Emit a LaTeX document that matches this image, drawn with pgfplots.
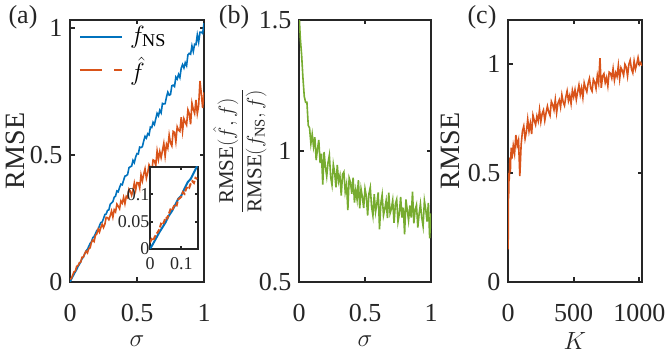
\documentclass[border=0pt]{standalone}
\usepackage{pgfplots}
\pgfplotsset{compat=1.18}
\usepackage{fontspec}
\setmainfont{Liberation Serif}
\definecolor{mblue}{rgb}{0,0.447,0.741}
\definecolor{morange}{rgb}{0.85,0.325,0.098}
\definecolor{mgreen}{rgb}{0.466,0.674,0.188}
\definecolor{axgray}{rgb}{0.15,0.15,0.15}
\pgfplotsset{
  panel/.style={
    scale only axis, width=134pt, height=262pt,
    anchor=south west,
    axis line style={line width=2.5pt, axgray},
    every tick/.style={line width=2.2pt, axgray},
    major tick length=4.5pt,
    tick align=inside,
    scaled ticks=false,
    tick label style={font=\fontsize{26}{26}\selectfont, text=axgray},
    /pgf/number format/assume math mode=true,
    /pgf/number format/1000 sep={},
    label style={font=\fontsize{28}{30}\selectfont, text=axgray},
    xticklabel style={yshift=-19pt},
    yticklabel style={xshift=-4pt},
    xlabel style={at={(rel axis cs:0.5,-0.225)}, anchor=center},
  },
}
\begin{document}
\begin{tikzpicture}
\path[use as bounding box] (0pt,0pt) rectangle (667pt,356pt);
% ---------------- (a)
\begin{axis}[panel, at={(70pt,74pt)},
  xmin=0, xmax=1, ymin=0, ymax=1.03,
  xtick={0,0.5,1}, ytick={0,0.5,1},
  xlabel={$\sigma$}, ylabel={RMSE},
  ylabel style={at={(rel axis cs:-0.41,0.5)}, anchor=center}]
\addplot[mblue, line width=1.6pt] coordinates {
(0,0) (0.01,0.0098) (0.02,0.0203) (0.03,0.0307) (0.04,0.0398) (0.05,0.0491) (0.06,0.0609) (0.07,0.0693) (0.08,0.0802) (0.09,0.0918) (0.10,0.0978) (0.11,0.1106) (0.12,0.1221) (0.13,0.1284) (0.14,0.1397) (0.15,0.1515) (0.16,0.1576) (0.17,0.1738) (0.18,0.1787) (0.19,0.19) (0.20,0.2025) (0.21,0.2058) (0.22,0.2217) (0.23,0.2335) (0.24,0.2358) (0.25,0.2488) (0.26,0.2652) (0.27,0.2673) (0.28,0.2814) (0.29,0.2835) (0.30,0.3053) (0.31,0.3108) (0.32,0.316) (0.33,0.3333) (0.34,0.3375) (0.35,0.3579) (0.36,0.3546) (0.37,0.3719) (0.38,0.3848) (0.39,0.3822) (0.40,0.40) (0.41,0.4162) (0.42,0.4179) (0.43,0.4225) (0.44,0.4488) (0.45,0.4534) (0.46,0.4554) (0.47,0.4782) (0.48,0.4692) (0.49,0.4912) (0.50,0.505) (0.51,0.5036) (0.52,0.5304) (0.53,0.5287) (0.54,0.5319) (0.55,0.5541) (0.56,0.5726) (0.57,0.5657) (0.58,0.5829) (0.59,0.5782) (0.60,0.609) (0.61,0.607) (0.62,0.6278) (0.63,0.619) (0.64,0.6416) (0.65,0.663) (0.66,0.6534) (0.67,0.675) (0.68,0.6647) (0.69,0.7021) (0.70,0.70) (0.71,0.7011) (0.72,0.7272) (0.73,0.7464) (0.74,0.7345) (0.75,0.7369) (0.76,0.7714) (0.77,0.7739) (0.78,0.7683) (0.79,0.8058) (0.80,0.798) (0.81,0.8161) (0.82,0.8036) (0.83,0.8404) (0.84,0.8547) (0.85,0.8415) (0.86,0.8622) (0.87,0.8504) (0.88,0.8932) (0.89,0.8989) (0.90,0.8955) (0.91,0.9282) (0.92,0.9062) (0.93,0.9347) (0.94,0.933) (0.95,0.9714) (0.96,0.9432) (0.97,0.9821) (0.98,0.9825) (0.99,0.9776) (1.00,1.0175)
};
\addplot[morange, line width=1.6pt] coordinates {
(0,0.011) (0.01,0.014) (0.02,0.027) (0.03,0.040) (0.04,0.043) (0.05,0.062) (0.06,0.064) (0.07,0.076) (0.08,0.078) (0.09,0.098) (0.10,0.098) (0.11,0.112) (0.12,0.121) (0.13,0.114) (0.14,0.131) (0.15,0.134) (0.16,0.156) (0.17,0.165) (0.18,0.159) (0.19,0.184) (0.20,0.189) (0.21,0.208) (0.22,0.196) (0.23,0.214) (0.24,0.227) (0.25,0.214) (0.26,0.227) (0.27,0.254) (0.28,0.253) (0.29,0.245) (0.30,0.260) (0.31,0.279) (0.32,0.255) (0.33,0.284) (0.34,0.276) (0.35,0.306) (0.36,0.298) (0.37,0.288) (0.38,0.319) (0.39,0.310) (0.40,0.333) (0.41,0.308) (0.42,0.337) (0.43,0.331) (0.44,0.365) (0.45,0.357) (0.46,0.341) (0.47,0.360) (0.48,0.389) (0.49,0.361) (0.50,0.391) (0.51,0.390) (0.52,0.369) (0.53,0.421) (0.54,0.397) (0.55,0.424) (0.56,0.445) (0.57,0.408) (0.58,0.430) (0.59,0.461) (0.60,0.450) (0.61,0.432) (0.62,0.480) (0.63,0.477) (0.64,0.458) (0.65,0.515) (0.66,0.482) (0.67,0.513) (0.68,0.489) (0.69,0.517) (0.70,0.545) (0.71,0.495) (0.72,0.541) (0.73,0.526) (0.74,0.578) (0.75,0.547) (0.76,0.535) (0.77,0.592) (0.78,0.588) (0.79,0.551) (0.80,0.610) (0.81,0.597) (0.82,0.592) (0.83,0.648) (0.84,0.593) (0.85,0.642) (0.86,0.628) (0.87,0.617) (0.88,0.677) (0.89,0.662) (0.90,0.620) (0.91,0.703) (0.92,0.679) (0.93,0.663) (0.94,0.716) (0.95,0.662) (0.96,0.693) (0.97,0.790) (0.98,0.740) (0.99,0.684) (1.00,0.745)
};
% legend keys
\draw[mblue, line width=1.5pt] (rel axis cs:0.075,0.935) -- (rel axis cs:0.388,0.935);
\draw[morange, line width=1.5pt, dash pattern=on 22pt off 12pt] (rel axis cs:0.075,0.809) -- (rel axis cs:0.388,0.809);
\node[anchor=base west, inner sep=0pt, font=\fontsize{26}{26}\selectfont] at (rel axis cs:0.448,0.912) {$f_{\mathrm{NS}}$};
\node[anchor=base west, inner sep=0pt, font=\fontsize{26}{26}\selectfont] at (rel axis cs:0.448,0.768) {$\hat{f}$};
\end{axis}
% ---------------- inset
\begin{axis}[scale only axis, width=48pt, height=82pt, at={(150pt,107pt)}, anchor=south west,
  xmin=0, xmax=0.153, ymin=0, ymax=0.15,
  xtick={0,0.1}, ytick={0,0.05,0.1},
  xticklabels={0,0.1}, yticklabels={0,0.05,0.1},
  scaled ticks=false,
  axis background/.style={fill=white},
  axis line style={line width=2.3pt, axgray},
  every tick/.style={line width=1.8pt, axgray},
  major tick length=3pt, tick align=inside,
  tick label style={font=\fontsize{18}{18}\selectfont, text=axgray},
  xticklabel style={yshift=-5pt},
  yticklabel style={xshift=3pt}]
\addplot[mblue, line width=2pt] coordinates {
(0,0) (0.01,0.0098) (0.02,0.0203) (0.03,0.0307) (0.04,0.0398) (0.05,0.0491) (0.06,0.0609) (0.07,0.0693) (0.08,0.0802) (0.09,0.0918) (0.10,0.0978) (0.11,0.1106) (0.12,0.1221) (0.13,0.1284) (0.14,0.1397) (0.15,0.1515)
};
\addplot[morange, line width=2pt, dash pattern=on 5pt off 2pt] coordinates {
(0,0.012) (0.005,0.018) (0.01,0.015) (0.015,0.022) (0.02,0.027) (0.025,0.031) (0.03,0.036) (0.035,0.046) (0.04,0.044) (0.045,0.050) (0.05,0.058) (0.055,0.056) (0.06,0.064) (0.065,0.072) (0.07,0.070) (0.075,0.077) (0.08,0.082) (0.085,0.080) (0.09,0.091) (0.095,0.093) (0.1,0.096) (0.105,0.104) (0.11,0.101) (0.115,0.110) (0.12,0.114) (0.125,0.112) (0.13,0.120) (0.135,0.124) (0.14,0.121) (0.145,0.130) (0.15,0.128)
};
\end{axis}
% ---------------- (b)
\begin{axis}[panel, at={(299pt,74pt)}, width=132pt,
  xmin=0, xmax=1, ymin=0.5, ymax=1.5,
  xtick={0,0.5,1}, ytick={0.5,1,1.5},
  xlabel={$\sigma$},
  ylabel={\fontsize{21}{21}\selectfont$\displaystyle\frac{\mathrm{RMSE}(\hat{f},f)}{\mathrm{RMSE}(f_{\mathrm{NS}},f)}$},
  ylabel style={at={(rel axis cs:-0.447,0.5)}, anchor=center}]
\addplot[mgreen, line width=1.6pt] coordinates {
(0.003,1.50) (0.01,1.43) (0.02,1.366) (0.03,1.278) (0.04,1.208) (0.05,1.186) (0.06,1.186) (0.07,1.098) (0.08,1.088) (0.09,1.028) (0.10,1.064) (0.11,1.017) (0.12,1.053) (0.13,0.965) (0.14,1.007) (0.15,1.042) (0.16,0.954) (0.17,0.990) (0.18,0.872) (0.19,0.996) (0.20,0.940) (0.21,0.903) (0.22,0.956) (0.23,0.984) (0.24,0.901) (0.25,0.870) (0.26,0.949) (0.27,0.918) (0.28,0.861) (0.29,0.947) (0.30,0.884) (0.31,0.906) (0.32,0.830) (0.33,0.911) (0.34,0.920) (0.35,0.844) (0.36,0.873) (0.37,0.774) (0.38,0.897) (0.39,0.880) (0.40,0.837) (0.41,0.898) (0.42,0.803) (0.43,0.851) (0.44,0.815) (0.45,0.889) (0.46,0.781) (0.47,0.855) (0.48,0.825) (0.49,0.782) (0.50,0.856) (0.51,0.828) (0.52,0.754) (0.53,0.837) (0.54,0.861) (0.55,0.787) (0.56,0.753) (0.57,0.835) (0.58,0.768) (0.59,0.799) (0.60,0.842) (0.61,0.701) (0.62,0.801) (0.63,0.833) (0.64,0.754) (0.65,0.779) (0.66,0.810) (0.67,0.744) (0.68,0.841) (0.69,0.762) (0.70,0.780) (0.71,0.812) (0.72,0.726) (0.73,0.797) (0.74,0.815) (0.75,0.730) (0.76,0.761) (0.77,0.825) (0.78,0.746) (0.79,0.784) (0.80,0.682) (0.81,0.815) (0.82,0.775) (0.83,0.735) (0.84,0.792) (0.85,0.746) (0.86,0.845) (0.87,0.724) (0.88,0.775) (0.89,0.794) (0.90,0.708) (0.91,0.760) (0.92,0.798) (0.93,0.746) (0.94,0.713) (0.95,0.810) (0.96,0.777) (0.97,0.731) (0.98,0.802) (0.99,0.667) (1.00,0.762)
};
\end{axis}
% ---------------- (c)
\begin{axis}[panel, at={(508pt,74pt)},
  xmin=0, xmax=1020, ymin=0, ymax=1.2,
  xtick={0,500,1000}, ytick={0,0.5,1},
  xlabel={$K$}, ylabel={RMSE},
  ylabel style={at={(rel axis cs:-0.433,0.5)}, anchor=center}]
\addplot[morange, line width=1.6pt] coordinates {
(1,0.15) (2,0.24) (3,0.355) (4,0.425) (5,0.41) (6,0.405) (8,0.50) (10,0.47) (12,0.515) (15,0.57) (18,0.505) (21,0.57) (25,0.615) (30,0.565) (35,0.595) (40,0.625) (50,0.588) (60,0.673) (70,0.625) (80,0.65) (90,0.485) (100,0.628) (110,0.691) (120,0.714) (130,0.656) (140,0.688) (150,0.745) (160,0.691) (170,0.727) (180,0.678) (190,0.764) (200,0.740) (210,0.720) (220,0.760) (230,0.737) (240,0.789) (250,0.734) (260,0.771) (270,0.787) (280,0.740) (290,0.776) (300,0.805) (310,0.778) (320,0.762) (330,0.827) (340,0.812) (350,0.788) (360,0.835) (370,0.775) (380,0.818) (390,0.834) (400,0.801) (410,0.857) (420,0.824) (430,0.808) (440,0.847) (450,0.875) (460,0.830) (470,0.854) (480,0.817) (490,0.877) (500,0.848) (510,0.880) (520,0.835) (530,0.871) (540,0.902) (550,0.858) (560,0.889) (570,0.845) (580,0.912) (590,0.888) (600,0.871) (610,0.910) (620,0.932) (630,0.887) (640,0.874) (650,0.928) (660,0.915) (670,0.886) (680,0.945) (690,0.911) (700,1.025) (710,0.889) (720,0.943) (730,0.954) (740,0.913) (750,0.936) (760,0.898) (770,0.961) (780,0.956) (790,0.934) (800,0.977) (810,0.924) (820,0.958) (830,0.941) (840,0.992) (850,0.930) (860,0.981) (870,0.968) (880,0.947) (890,0.997) (900,0.984) (910,0.943) (920,0.997) (930,1.016) (940,0.975) (950,0.958) (960,1.012) (970,0.975) (980,0.998) (990,1.028) (1000,0.995) (1010,1.005) (1020,0.99)
};
\end{axis}
% panel letters
\node[font=\fontsize{26}{26}\selectfont, text=axgray] at (23pt,339pt) {(a)};
\node[font=\fontsize{26}{26}\selectfont, text=axgray] at (234pt,339pt) {(b)};
\node[font=\fontsize{26}{26}\selectfont, text=axgray] at (482pt,339pt) {(c)};
\end{tikzpicture}
\end{document}
